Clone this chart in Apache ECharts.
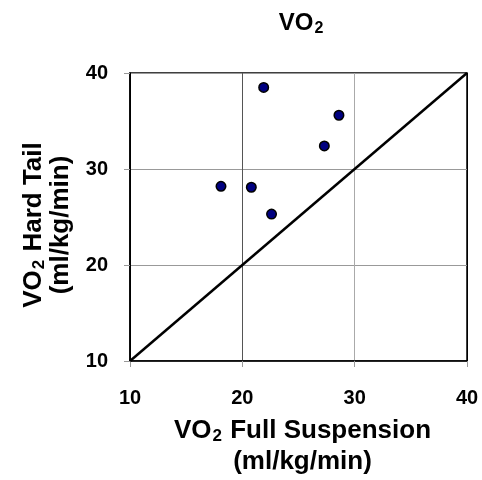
<!DOCTYPE html>
<html>
<head>
<meta charset="utf-8">
<title>VO2</title>
<script src="https://cdn.jsdelivr.net/npm/echarts@6/dist/echarts.min.js"></script>
<style>
  html, body { margin: 0; padding: 0; background: #fff; }
  #chart { width: 482px; height: 480px; }
</style>
</head>
<body>
<div id="chart"></div>
<script>
// VO2 数据：全避震 vs 硬尾
var fullSuspension = [18.1, 20.8, 21.9, 22.6, 27.3, 28.6];
var hardTail = [28.2, 28.1, 38.5, 25.3, 32.4, 35.6];
var identityLine = [10, 40];   // y = x 参考线两端
var axisTicks = [10, 20, 30, 40];

var fontName = 'Liberation Sans';

var points = [];
for (var i = 0; i < fullSuspension.length; i++) {
	points.push([fullSuspension[i], hardTail[i]]);
}
var linePts = [];
for (var j = 0; j < identityLine.length; j++) {
	linePts.push([identityLine[j], identityLine[j]]);
}

function nameRich(lh) {
	return {
		a : { fontFamily : fontName, fontWeight : 'bold', fontSize : 26, color : '#000', lineHeight : lh },
		s : { fontFamily : fontName, fontWeight : 'bold', fontSize : 17, color : '#000', padding : [12, 1, 0, 1], lineHeight : lh }
	};
}

var myChart = echarts.init(document.getElementById('chart'));

var option = {
	backgroundColor : '#fff',
	animation : false,
	title : {
		text : '{a|VO}{s|2}',
		left : 296,
		top : 4,
		textAlign : 'center',
		textStyle : {
			rich : {
				a : { fontFamily : fontName, fontWeight : 'bold', fontSize : 24, color : '#000' },
				s : { fontFamily : fontName, fontWeight : 'bold', fontSize : 16, color : '#000', padding : [12, 0, 0, 1] }
			}
		}
	},
	grid : { left : 130, right : 15, top : 73, bottom : 119, outerBoundsMode : 'none', containLabel : false, show : true, borderColor : '#000', borderWidth : 1.5 },
	xAxis : {
		type : 'value',
		min : axisTicks[0],
		max : axisTicks[axisTicks.length - 1],
		interval : 10,
		name : '{a|VO}{s|2}{a| Full Suspension}\n{a|(ml/kg/min)}',
		nameLocation : 'middle',
		nameGap : 54,
		nameTextStyle : { rich : nameRich(31), padding : [0, 0, 0, 8] },
		axisLine : { show : true, lineStyle : { color : '#000', width : 1.5 } },
		axisTick : { show : true, inside : false, length : 6, lineStyle : { color : '#999' } },
		axisLabel : { margin : 27, fontFamily : fontName, fontWeight : 'bold', fontSize : 20, color : '#000' },
		splitLine : { show : true, lineStyle : { color : ['#000', '#555', '#aaa', '#000'], width : 1 } }
	},
	yAxis : {
		type : 'value',
		min : axisTicks[0],
		max : axisTicks[axisTicks.length - 1],
		interval : 10,
		name : '{a|VO}{s|2}{a| Hard Tail}\n{a|(ml/kg/min)}',
		nameLocation : 'middle',
		nameRotate : 90,
		nameGap : 56,
		nameTextStyle : { rich : nameRich(27), padding : [0, 16, 0, 0] },
		axisLine : { show : true, lineStyle : { color : '#000', width : 1.5 } },
		axisTick : { show : true, inside : false, length : 6, lineStyle : { color : '#999' } },
		axisLabel : { margin : 22, fontFamily : fontName, fontWeight : 'bold', fontSize : 20, color : '#000' },
		splitLine : { show : true, lineStyle : { color : '#999', width : 1 } }
	},
	series : [{
		type : 'line',
		data : linePts,
		symbol : 'none',
		lineStyle : { color : '#000', width : 2.5 },
		z : 2
	}, {
		type : 'scatter',
		data : points,
		symbol : 'circle',
		symbolSize : 9.5,
		itemStyle : { color : '#000080', borderColor : '#000', borderWidth : 1.5, opacity : 1 },
		z : 3
	}]
};

myChart.setOption(option);
</script>
</body>
</html>
